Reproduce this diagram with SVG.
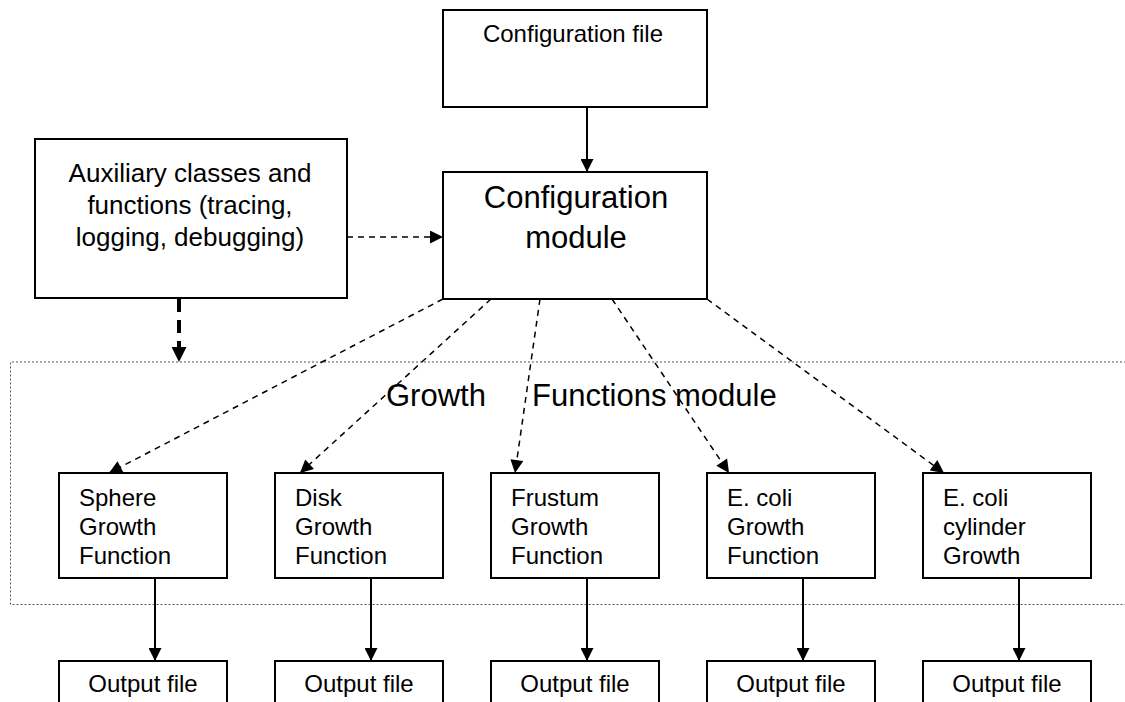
<svg xmlns="http://www.w3.org/2000/svg" width="1125" height="702" viewBox="0 0 1125 702">
<defs>
<marker id="ah" viewBox="0 0 10 10" refX="10" refY="5" markerWidth="14" markerHeight="13" markerUnits="userSpaceOnUse" orient="auto">
<path d="M0,0 L10,5 L0,10 z" fill="#000"/>
</marker>
<marker id="ahb" viewBox="0 0 10 10" refX="10" refY="5" markerWidth="16" markerHeight="15" markerUnits="userSpaceOnUse" orient="auto">
<path d="M0,0 L10,5 L0,10 z" fill="#000"/>
</marker>
</defs>
<style>
.box{fill:#fff;stroke:#000;stroke-width:2}
.t{font-family:"Liberation Sans",Arial,Helvetica,sans-serif;fill:#000}
.s{font-size:24px}
.b{font-size:31px}
.solid{stroke:#000;stroke-width:2;fill:none;marker-end:url(#ah)}
.dash{stroke:#000;stroke-width:1.5;stroke-dasharray:6,5;fill:none;marker-end:url(#ah)}
.thick{stroke:#000;stroke-width:4;stroke-dasharray:13,8;fill:none;marker-end:url(#ahb)}
</style>
<rect width="1125" height="702" fill="#fff"/>
<g id="growth-functions-module">
<path d="M1130,362 H10.5 V604.5 H1130" fill="none" stroke="#555" stroke-width="1" stroke-dasharray="2,2"/>
<text class="t b" y="406"><tspan x="386">Growth</tspan><tspan x="532">Functions module</tspan></text>
</g>
<g id="config-file">
<rect class="box" x="443" y="10" width="264" height="97"/>
<text class="t s" x="573" y="42" text-anchor="middle">Configuration file</text>
</g>
<g id="config-module">
<rect class="box" x="443" y="172" width="264" height="127"/>
<text class="t b" text-anchor="middle"><tspan x="576" y="208">Configuration</tspan><tspan x="576" y="248">module</tspan></text>
</g>
<g id="aux">
<rect class="box" x="35" y="139" width="312" height="159"/>
<text class="t" font-size="26" text-anchor="middle"><tspan x="190" y="182">Auxiliary classes and</tspan><tspan x="190" y="214">functions (tracing,</tspan><tspan x="190" y="246">logging, debugging)</tspan></text>
</g>
<g id="sphere">
<rect class="box" x="59" y="473" width="168" height="105"/>
<text class="t s"><tspan x="79" y="506">Sphere</tspan><tspan x="79" y="535">Growth</tspan><tspan x="79" y="564">Function</tspan></text>
</g>
<g id="disk">
<rect class="box" x="275" y="473" width="168" height="105"/>
<text class="t s"><tspan x="295" y="506">Disk</tspan><tspan x="295" y="535">Growth</tspan><tspan x="295" y="564">Function</tspan></text>
</g>
<g id="frustum">
<rect class="box" x="491" y="473" width="168" height="105"/>
<text class="t s"><tspan x="511" y="506">Frustum</tspan><tspan x="511" y="535">Growth</tspan><tspan x="511" y="564">Function</tspan></text>
</g>
<g id="ecoli">
<rect class="box" x="707" y="473" width="168" height="105"/>
<text class="t s"><tspan x="727" y="506">E. coli</tspan><tspan x="727" y="535">Growth</tspan><tspan x="727" y="564">Function</tspan></text>
</g>
<g id="ecoli-cylinder">
<rect class="box" x="923" y="473" width="168" height="105"/>
<text class="t s"><tspan x="943" y="506">E. coli</tspan><tspan x="943" y="535">cylinder</tspan><tspan x="943" y="564">Growth</tspan></text>
</g>
<g id="out1"><rect class="box" x="59" y="661" width="168" height="60"/><text class="t s" x="143" y="692" text-anchor="middle">Output file</text></g>
<g id="out2"><rect class="box" x="275" y="661" width="168" height="60"/><text class="t s" x="359" y="692" text-anchor="middle">Output file</text></g>
<g id="out3"><rect class="box" x="491" y="661" width="168" height="60"/><text class="t s" x="575" y="692" text-anchor="middle">Output file</text></g>
<g id="out4"><rect class="box" x="707" y="661" width="168" height="60"/><text class="t s" x="791" y="692" text-anchor="middle">Output file</text></g>
<g id="out5"><rect class="box" x="923" y="661" width="168" height="60"/><text class="t s" x="1007" y="692" text-anchor="middle">Output file</text></g>
<g id="connectors">
<line class="solid" x1="587" y1="107" x2="587" y2="172"/>
<line class="dash" x1="347" y1="237" x2="443" y2="237"/>
<line class="thick" x1="179" y1="299" x2="179" y2="362"/>
<line class="dash" x1="443" y1="299" x2="109" y2="473"/>
<line class="dash" x1="491" y1="299" x2="300" y2="473"/>
<line class="dash" x1="540" y1="299" x2="515" y2="473"/>
<line class="dash" x1="612" y1="299" x2="729" y2="473"/>
<line class="dash" x1="707" y1="299" x2="944" y2="473"/>
<line class="solid" x1="155" y1="578" x2="155" y2="661"/>
<line class="solid" x1="371" y1="578" x2="371" y2="661"/>
<line class="solid" x1="587" y1="578" x2="587" y2="661"/>
<line class="solid" x1="803" y1="578" x2="803" y2="661"/>
<line class="solid" x1="1019" y1="578" x2="1019" y2="661"/>
</g>
</svg>
